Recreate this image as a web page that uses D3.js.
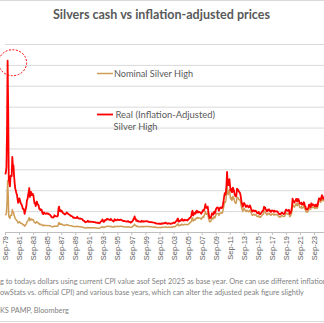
<!DOCTYPE html>
<html>
<head>
<meta charset="utf-8">
<script src="https://cdn.jsdelivr.net/npm/d3@7"></script>
<style>
  html, body { margin: 0; padding: 0; background: #fff; }
  svg { display: block; }
</style>
</head>
<body>
<script>
'use strict';

// monthly silver prices, USD/oz, starting Sep 1979
var firstMonth = "1979-09";

var nominal = [
  16.0, 16.5, 18.0, 28.0,
  49.0, 35.0, 15.0, 14.0, 13.0, 16.0, 16.0, 16.0, 21.5, 19.0, 19.0, 16.0,
  14.5, 12.8, 12.2, 11.4, 11.0, 9.7, 8.6, 9.3, 9.9, 9.4, 8.6, 8.3,
  8.3, 7.8, 7.0, 7.1, 6.7, 5.5, 6.2, 7.0, 7.8, 9.6, 10.0, 11.2,
  12.6, 13.8, 11.0, 11.6, 12.6, 11.6, 11.6, 12.0, 11.6, 10.2, 9.0, 9.1,
  8.4, 9.4, 9.9, 9.1, 8.9, 8.6, 7.5, 7.6, 7.1, 7.3, 7.3, 6.4,
  6.2, 6.0, 6.6, 6.4, 6.2, 6.1, 6.2, 6.3, 6.1, 6.2, 6.1, 5.9,
  6.1, 5.8, 5.6, 5.2, 5.1, 5.1, 5.0, 5.2, 5.8, 5.6, 5.5, 5.4,
  5.5, 5.5, 5.8, 8.3, 9.0, 7.4, 7.8, 7.3, 7.6, 7.4, 6.8, 6.8,
  6.7, 6.4, 6.3, 6.6, 6.6, 7.1, 6.8, 6.7, 6.4, 6.3, 6.2, 6.1,
  5.9, 5.9, 5.8, 5.7, 5.3, 5.2, 5.3, 5.2, 5.2, 5.1, 5.3, 5.6,
  5.2, 5.2, 5.0, 5.0, 5.1, 4.9, 4.9, 4.9, 4.8, 4.3, 4.2, 4.2,
  4.0, 3.8, 3.9, 3.9, 4.0, 4.4, 4.3, 3.9, 4.1, 4.1, 4.1, 3.9,
  4.1, 4.1, 4.1, 4.0, 4.0, 4.0, 3.9, 3.8, 3.8, 3.7, 3.8, 3.7,
  3.7, 3.6, 3.9, 4.3, 4.5, 4.5, 5.2, 4.8, 4.2, 4.3, 4.7, 5.1,
  5.1, 5.3, 5.6, 5.4, 5.4, 5.3, 5.2, 5.1, 5.6, 5.3, 5.1, 4.8,
  4.8, 4.6, 4.9, 5.6, 5.2, 5.1, 5.2, 5.2, 5.5, 5.3, 5.3, 5.2,
  5.5, 5.6, 5.5, 5.4, 5.3, 5.1, 5.0, 5.1, 4.9, 4.8, 4.8, 4.8,
  4.8, 5.1, 5.1, 4.7, 4.7, 4.7, 4.4, 4.5, 4.7, 5.0, 5.2, 6.0,
  6.5, 7.5, 6.2, 6.3, 5.3, 5.4, 5.5, 5.0, 5.2, 5.0, 5.0, 4.9,
  5.1, 5.5, 5.1, 5.1, 5.3, 5.1, 5.2, 5.2, 5.3, 5.4, 5.2, 5.3,
  5.2, 5.2, 5.0, 5.0, 5.0, 5.0, 5.0, 4.9, 4.9, 4.8, 4.7, 4.6,
  4.7, 4.6, 4.4, 4.4, 4.4, 4.4, 4.3, 4.2, 4.4, 4.3, 4.1, 4.5,
  4.5, 4.4, 4.6, 4.6, 4.7, 4.9, 5.0, 4.6, 4.6, 4.4, 4.5, 4.6,
  4.8, 4.6, 4.5, 4.5, 4.7, 4.6, 4.8, 5.0, 5.2, 4.9, 5.1, 5.5,
  6.3, 6.5, 7.4, 7.9, 6.0, 6.0, 6.5, 6.7, 6.5, 7.2, 7.5, 7.0,
  6.7, 7.0, 7.3, 7.0, 7.1, 7.2, 7.1, 6.9, 7.2, 7.6, 7.9, 8.5,
  9.0, 9.5, 10.5, 12.6, 13.5, 10.5, 11.1, 12.2, 11.6, 11.7, 13.0, 13.5,
  13.2, 14.0, 13.2, 13.6, 13.3, 13.2, 12.9, 12.3, 13.2, 13.8, 14.7, 14.2,
  16.0, 17.5, 19.8, 17.3, 17.0, 17.1, 18.0, 14.0, 12.0, 9.9, 9.8, 10.2,
  11.3, 13.5, 13.0, 12.5, 14.0, 14.8, 13.4, 14.5, 16.5, 17.3, 17.8, 17.8,
  17.8, 15.9, 17.1, 18.1, 18.1, 18.4, 17.9, 18.3, 20.6, 23.3, 26.5, 29.0,
  28.5, 30.5, 35.8, 46.0, 38.0, 35.8, 38.0, 40.5, 36.0, 31.7, 33.0, 30.5,
  30.7, 34.2, 33.0, 31.5, 28.8, 28.0, 27.3, 28.5, 33.5, 32.7, 32.7, 31.2,
  31.1, 30.4, 28.8, 25.5, 22.7, 21.1, 19.7, 22.0, 22.6, 21.8, 20.8, 19.6,
  19.9, 20.8, 20.7, 19.7, 19.3, 19.9, 20.9, 19.8, 18.4, 17.2, 16.0, 16.3,
  17.0, 16.8, 16.2, 16.3, 16.8, 16.0, 15.0, 14.9, 14.7, 15.7, 14.4, 14.0,
  14.1, 15.0, 15.4, 16.3, 16.8, 17.2, 19.9, 19.6, 19.3, 17.6, 17.4, 16.3,
  16.7, 17.9, 17.5, 18.0, 16.8, 16.9, 16.0, 17.0, 17.2, 16.9, 17.0, 16.1,
  17.1, 16.7, 16.5, 16.7, 16.5, 16.6, 15.7, 15.0, 14.3, 14.6, 14.3, 14.7,
  15.6, 15.8, 15.2, 15.0, 14.6, 15.0, 15.8, 17.4, 18.2, 17.6, 17.2, 17.1,
  18.0, 17.8, 14.7, 15.1, 16.2, 17.7, 21.0, 27.0, 25.2, 24.2, 23.8, 25.0,
  26.0, 27.3, 25.6, 25.2, 27.3, 27.0, 25.8, 23.8, 23.3, 23.4, 24.2, 22.6,
  23.3, 23.3, 25.3, 24.5, 21.9, 21.6, 19.2, 19.6, 19.0, 19.6, 20.5, 23.2,
  23.6, 21.9, 21.6, 25.0, 24.1, 23.3, 23.9, 23.6, 23.3, 22.3, 23.4, 23.9,
  22.9, 22.8, 24.5, 27.5, 29.8, 29.6, 29.5, 28.3, 30.5, 32.6, 30.9, 29.7,
  30.5, 32.0, 33.5, 32.4, 32.8, 36.0, 38.0, 38.5, 44.0
];

var real = [
  55.2, 56.9, 62.1, 96.6,
  164, 117, 50.3, 46.9, 43.6, 53.6, 53.6, 53.6, 72.0, 63.7, 63.7, 53.6,
  47.1, 41.6, 39.7, 37.1, 35.8, 31.5, 28.0, 30.2, 32.2, 30.6, 28.0, 27.0,
  26.1, 24.6, 22.1, 22.4, 21.1, 17.3, 19.5, 22.1, 24.6, 30.2, 31.5, 35.3,
  38.4, 42.1, 33.6, 35.4, 38.4, 35.4, 35.4, 36.6, 35.4, 31.1, 27.5, 27.8,
  24.8, 27.7, 29.2, 26.8, 26.3, 25.4, 22.1, 22.4, 20.9, 21.5, 21.5, 18.9,
  17.7, 17.1, 18.8, 18.2, 17.7, 17.4, 17.7, 18.0, 17.4, 17.7, 17.4, 16.8,
  16.8, 16.0, 15.4, 14.3, 14.0, 14.0, 13.8, 14.3, 16.0, 15.4, 15.1, 14.9,
  14.9, 14.9, 15.7, 22.4, 24.3, 20.0, 21.1, 19.7, 20.5, 20.0, 18.4, 18.4,
  17.8, 17.0, 16.7, 17.5, 17.5, 18.8, 18.0, 17.8, 17.0, 16.7, 16.4, 16.2,
  15.3, 15.3, 15.1, 14.8, 13.8, 13.5, 13.8, 13.5, 13.5, 13.3, 13.8, 14.6,
  13.3, 13.3, 12.8, 12.8, 13.0, 12.5, 12.5, 12.5, 12.2, 11.0, 10.7, 10.7,
  9.8, 9.3, 9.6, 9.6, 9.8, 10.8, 10.5, 9.6, 10.0, 10.0, 10.0, 9.6,
  9.6, 9.6, 9.6, 9.4, 9.4, 9.4, 9.2, 8.9, 8.9, 8.7, 8.9, 8.7,
  8.5, 8.3, 9.0, 9.9, 10.4, 10.4, 12.0, 11.0, 9.7, 9.9, 10.8, 11.7,
  11.5, 11.9, 12.6, 12.2, 12.2, 11.9, 11.7, 11.5, 12.6, 11.9, 11.5, 10.8,
  10.6, 10.1, 10.8, 12.3, 11.4, 11.2, 11.4, 11.4, 12.1, 11.7, 11.7, 11.4,
  11.6, 11.8, 11.6, 11.3, 11.1, 10.7, 10.5, 10.7, 10.3, 10.1, 10.1, 10.1,
  9.8, 10.5, 10.5, 9.6, 9.6, 9.6, 9.0, 9.2, 9.6, 10.3, 10.7, 12.3,
  13.0, 15.0, 12.4, 12.6, 10.6, 10.8, 11.0, 10.0, 10.4, 10.0, 10.0, 9.8,
  9.9, 10.7, 9.9, 9.9, 10.3, 9.9, 10.1, 10.1, 10.3, 10.5, 10.1, 10.3,
  9.9, 9.9, 9.5, 9.5, 9.5, 9.5, 9.5, 9.3, 9.3, 9.1, 8.9, 8.7,
  8.7, 8.5, 8.1, 8.1, 8.1, 8.1, 8.0, 7.8, 8.1, 8.0, 7.6, 8.3,
  8.1, 7.9, 8.3, 8.3, 8.5, 8.8, 9.0, 8.3, 8.3, 7.9, 8.1, 8.3,
  8.4, 8.1, 7.9, 7.9, 8.2, 8.1, 8.4, 8.8, 9.1, 8.6, 8.9, 9.6,
  10.4, 10.7, 12.2, 13.0, 9.9, 9.9, 10.7, 11.1, 10.7, 11.9, 12.4, 11.6,
  10.7, 11.2, 11.7, 11.2, 11.4, 11.5, 11.4, 11.0, 11.5, 12.2, 12.6, 13.6,
  13.5, 14.3, 15.8, 18.9, 20.3, 15.8, 16.7, 18.3, 17.4, 17.6, 19.5, 20.3,
  18.7, 19.9, 18.7, 19.3, 18.9, 18.7, 18.3, 17.5, 18.7, 19.6, 20.9, 20.2,
  21.6, 23.6, 26.7, 23.4, 23.0, 23.1, 24.3, 18.9, 16.2, 13.4, 13.2, 13.8,
  14.9, 17.8, 17.2, 16.5, 18.5, 19.5, 17.7, 19.1, 21.8, 22.8, 23.5, 23.5,
  22.8, 20.4, 21.9, 23.2, 23.2, 23.6, 22.9, 23.4, 26.4, 29.8, 33.9, 37.1,
  35.6, 38.1, 44.8, 57.5, 47.5, 44.8, 47.5, 50.6, 45.0, 39.6, 41.3, 38.1,
  38.1, 42.4, 40.9, 39.1, 35.7, 34.7, 33.9, 35.3, 41.5, 40.5, 40.5, 38.7,
  38.3, 37.4, 35.4, 31.4, 27.9, 26.0, 24.2, 27.1, 27.8, 26.8, 25.6, 24.1,
  24.3, 25.4, 25.3, 24.0, 23.5, 24.3, 25.5, 24.2, 22.4, 21.0, 19.5, 19.9,
  20.7, 20.5, 19.8, 19.9, 20.5, 19.5, 18.3, 18.2, 17.9, 19.2, 17.6, 17.1,
  17.1, 18.2, 18.6, 19.7, 20.3, 20.8, 24.1, 23.7, 23.4, 21.3, 21.1, 19.7,
  20.0, 21.5, 21.0, 21.6, 20.2, 20.3, 19.2, 20.4, 20.6, 20.3, 20.4, 19.3,
  20.3, 19.9, 19.6, 19.9, 19.6, 19.8, 18.7, 17.9, 17.0, 17.4, 17.0, 17.5,
  18.4, 18.6, 17.9, 17.7, 17.2, 17.7, 18.6, 20.5, 21.5, 20.8, 20.3, 20.2,
  21.2, 21.0, 17.3, 17.8, 19.1, 20.9, 24.8, 31.9, 29.7, 28.6, 28.1, 29.5,
  30.2, 31.7, 29.7, 29.2, 31.7, 31.3, 29.9, 27.6, 27.0, 27.1, 28.1, 26.2,
  26.3, 26.3, 28.6, 27.7, 24.7, 24.4, 21.7, 22.1, 21.5, 22.1, 23.2, 26.2,
  26.0, 24.1, 23.8, 27.5, 26.5, 25.6, 26.3, 26.0, 25.6, 24.5, 25.7, 26.3,
  24.7, 24.6, 26.5, 29.7, 32.2, 32.0, 31.9, 30.6, 32.9, 35.2, 33.4, 32.1,
  31.7, 33.3, 34.8, 33.7, 34.1, 37.4, 39.5, 40.0, 44.0
];

var tickLabels = ["Sep-79", "Sep-81", "Sep-83", "Sep-85", "Sep-87", "Sep-89", "Sep-91",
  "Sep-93", "Sep-95", "Sep-97", "Sep-99", "Sep-01", "Sep-03", "Sep-05", "Sep-07",
  "Sep-09", "Sep-11", "Sep-13", "Sep-15", "Sep-17", "Sep-19", "Sep-21", "Sep-23", "Sep-25"];

var gridValues = [0, 20, 40, 60, 80, 100, 120, 140, 160, 180];

var title = "Silvers cash vs inflation-adjusted prices";
var legendNominal = "Nominal Silver High";
var legendReal = ["Real (Inflation-Adjusted)", "Silver High"];
var notes = [
  "g to todays dollars using current CPI value asof Sept 2025 as base year. One can use different inflation",
  "owStats vs. official CPI) and various base years, which can  alter the adjusted peak figure slightly",
  "KS PAMP,  Bloomberg"
];

var W = 324, H = 323;
var TAN = "#cf9c55", RED = "#ff0000", GREY = "#595959", GRID = "#d9d9d9";
var FONT = "Lato, 'Open Sans', sans-serif";

var parseMonth = d3.timeParse("%Y-%m");
var parseTick = d3.timeParse("%b-%y");
var start = parseMonth(firstMonth);
var months = nominal.map(function(d, i){
  return d3.timeDay.offset(d3.timeMonth.offset(start, i), 14);
});

var x = d3.scaleTime()
  .domain([parseTick("Sep-79"), parseTick("Sep-23")])
  .range([5, 314]);
var y = d3.scaleLinear().domain([0, 180]).range([232, 44]);

var svg = d3.select("body").append("svg")
  .attr("width", W)
  .attr("height", H);

// chart border (top / bottom visible)
svg.append("line").attr("x1", 0).attr("x2", W).attr("y1", 0.5).attr("y2", 0.5)
  .attr("stroke", GRID);
svg.append("line").attr("x1", 0).attr("x2", W).attr("y1", 321.5).attr("y2", 321.5)
  .attr("stroke", GRID);

// title
svg.append("text")
  .attr("x", 161.5).attr("y", 19)
  .attr("text-anchor", "middle")
  .attr("font-family", FONT)
  .attr("font-weight", "bold")
  .attr("font-size", "13px")
  .attr("fill", GREY)
  .attr("textLength", 217)
  .attr("lengthAdjust", "spacingAndGlyphs")
  .text(title);

// gridlines
svg.append("g")
  .attr("transform", "translate(5,0)")
  .call(d3.axisLeft(y).tickValues(gridValues).tickSize(-(W - 5)).tickFormat(""))
  .call(function(g){ g.select(".domain").remove(); })
  .selectAll("line")
  .attr("stroke", GRID);

// x axis
var xAxis = svg.append("g")
  .attr("transform", "translate(0,232)")
  .call(d3.axisBottom(x)
    .tickValues(tickLabels.map(parseTick))
    .tickSize(3)
    .tickFormat(d3.timeFormat("%b-%y")));
xAxis.select(".domain").remove();
xAxis.append("line")
  .attr("x1", 5).attr("x2", W).attr("y1", 0.5).attr("y2", 0.5)
  .attr("stroke", "#bfbfbf");
xAxis.selectAll(".tick line").attr("stroke", "#bfbfbf");
xAxis.selectAll(".tick text")
  .attr("transform", "rotate(-90)")
  .attr("text-anchor", "end")
  .attr("x", -4)
  .attr("y", 0)
  .attr("dy", "0.35em")
  .attr("fill", GREY)
  .attr("font-family", "'Liberation Sans', Arial, sans-serif")
  .attr("font-size", "7.5px");

// series
var line = d3.line()
  .x(function(d, i){ return x(months[i]); })
  .y(function(d){ return y(d); });

svg.append("path")
  .datum(nominal)
  .attr("d", line)
  .attr("fill", "none")
  .attr("stroke", TAN)
  .attr("stroke-width", 1.5)
  .attr("stroke-linejoin", "round");

svg.append("path")
  .datum(real)
  .attr("d", line)
  .attr("fill", "none")
  .attr("stroke", RED)
  .attr("stroke-width", 1.8)
  .attr("stroke-linejoin", "round");

// dashed ring around the 1980 peak
var pi = d3.maxIndex(real);
svg.append("ellipse")
  .attr("cx", x(months[pi]) + 5)
  .attr("cy", y(real[pi]) + 2)
  .attr("rx", 14).attr("ry", 13)
  .attr("fill", "none")
  .attr("stroke", RED)
  .attr("stroke-width", 1)
  .attr("stroke-dasharray", "2,1.5");

// legend
function legendText(str, lx, ly, w){
  svg.append("text")
    .attr("x", lx).attr("y", ly)
    .attr("font-family", FONT)
    .attr("font-size", "9.5px")
    .attr("fill", GREY)
    .attr("textLength", w)
    .attr("lengthAdjust", "spacingAndGlyphs")
    .text(str);
}
svg.append("line").attr("x1", 97).attr("x2", 113).attr("y1", 73.5).attr("y2", 73.5)
  .attr("stroke", TAN).attr("stroke-width", 1.5);
legendText(legendNominal, 114, 76.5, 79);
svg.append("line").attr("x1", 97).attr("x2", 113).attr("y1", 114.5).attr("y2", 114.5)
  .attr("stroke", RED).attr("stroke-width", 1.8);
legendText(legendReal[0], 115.5, 117.5, 99.5);
legendText(legendReal[1], 113.5, 130, 44);

// footnotes
var noteY = [284, 294.5, 313];
var noteSel = svg.selectAll(".note")
  .data(notes)
  .enter()
  .append("text")
  .attr("class", "note")
  .attr("x", 0)
  .attr("y", function(d, i){ return noteY[i]; })
  .attr("font-family", FONT)
  .attr("font-size", "7px")
  .attr("fill", "#7f7f7f")
  .text(function(d){ return d; });
var len2 = noteSel.nodes()[1].getComputedTextLength();
noteSel.attr("font-size", (7 * 304 / len2) + "px");
</script>
</body>
</html>
